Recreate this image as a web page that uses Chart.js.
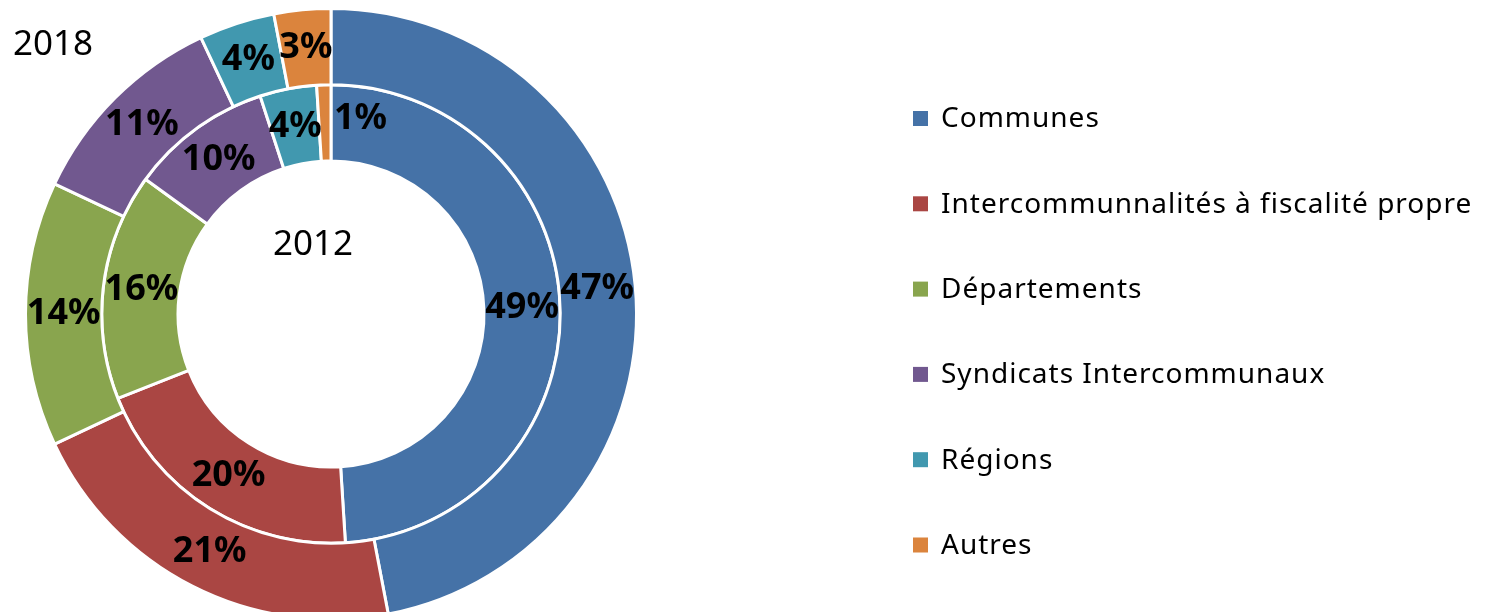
<!DOCTYPE html>
<html>
<head>
<meta charset="utf-8">
<script src="https://cdn.jsdelivr.net/npm/chart.js@4/dist/chart.umd.min.js"></script>
<style>
  html, body { margin: 0; padding: 0; background: #ffffff; overflow: hidden; }
  .chart-wrap { position: absolute; left: 0; top: 0; width: 1488px; height: 624px; }
</style>
</head>
<body>
<div class="chart-wrap"><canvas id="c"></canvas></div>
<script>
// categories + values (outer ring = 2018, inner ring = 2012)
const categories = ['Communes', 'Intercommunnalités à fiscalité propre', 'Départements',
    'Syndicats Intercommunaux', 'Régions', 'Autres'];
const values2018 = [47, 21, 14, 11, 4, 3];
const values2012 = [49, 20, 16, 10, 4, 1];
const ringYears = ['2018', '2012'];
const colors = ['#4572A7', '#AA4643', '#89A54E', '#71588F', '#4198AF', '#DB843D'];

const FONT = '"Noto Sans", "DejaVu Sans", sans-serif';

// draws the % labels, the year captions and the legend
const annotations = {
    id: 'annotations',
    afterDraw(chart) {
        const ctx = chart.ctx;
        ctx.save();

        // percent labels on each arc
        ctx.fillStyle = '#000';
        ctx.font = 'bold 36px ' + FONT;
        ctx.textBaseline = 'middle';
        chart.data.datasets.forEach((ds, di) => {
            const meta = chart.getDatasetMeta(di);
            const total = ds.data.reduce((a, b) => a + b, 0);
            meta.data.forEach((arc, i) => {
                const p = arc.tooltipPosition();
                const pct = Math.round(ds.data[i] / total * 100);
                if (pct < 2) {
                    // too thin for the label: put it just past the slice
                    ctx.textAlign = 'left';
                    ctx.fillText(pct + '%', p.x + 9, p.y - 4);
                } else {
                    ctx.textAlign = 'center';
                    ctx.fillText(pct + '%', p.x, p.y);
                }
            });
        });

        // year captions
        const arc0 = chart.getDatasetMeta(1).data[0];
        ctx.font = '35px ' + FONT;
        ctx.textAlign = 'left';
        ctx.fillText(ringYears[0], 13, 45);
        ctx.textAlign = 'center';
        ctx.fillText(ringYears[1], arc0.x - 18, arc0.y - 69);

        // legend
        ctx.font = '28px ' + FONT;
        ctx.letterSpacing = '1px';
        ctx.textAlign = 'left';
        categories.forEach((name, i) => {
            const y = 118.5 + i * 85.3;
            ctx.fillStyle = colors[i];
            ctx.fillRect(913, y - 7.5, 15, 15);
            ctx.fillStyle = '#000';
            ctx.fillText(name, 941, y + 1);
        });
        ctx.restore();
    }
};

new Chart(document.getElementById('c'), {
    type: 'doughnut',
    data: {
        labels: categories,
        datasets: [
            { label: ringYears[0], data: values2018, backgroundColor: colors,
              borderColor: '#ffffff', borderWidth: 3 },
            { label: ringYears[1], data: values2012, backgroundColor: colors,
              borderColor: '#ffffff', borderWidth: 3 }
        ]
    },
    options: {
        responsive: true,
        maintainAspectRatio: false,
        animation: false,
        cutout: 153,
        layout: { padding: { left: 24, right: 850, top: 7, bottom: 3 } },
        plugins: {
            legend: { display: false },
            tooltip: { enabled: false }
        }
    },
    plugins: [annotations]
});
</script>
</body>
</html>
